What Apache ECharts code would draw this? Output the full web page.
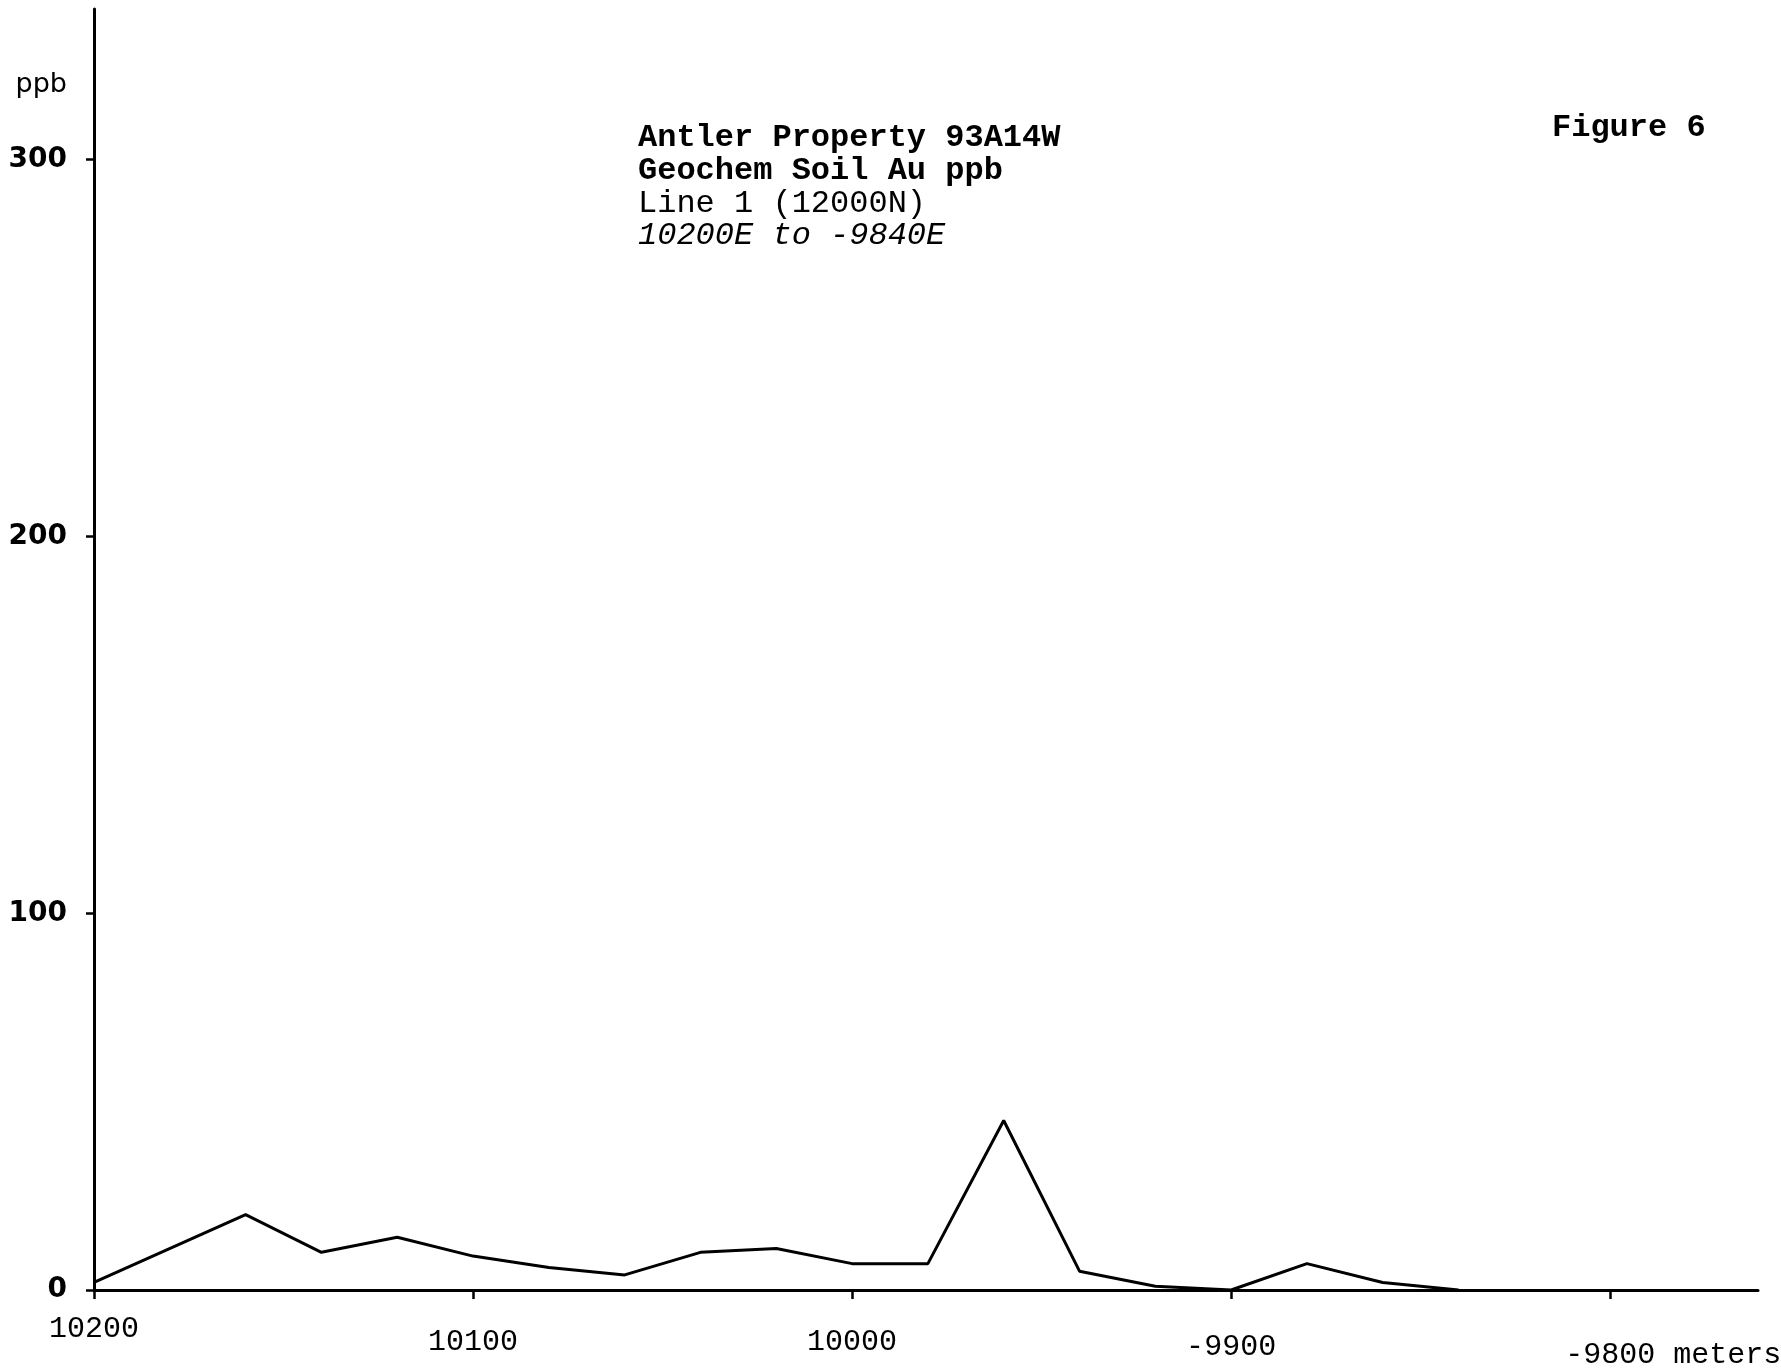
<!DOCTYPE html>
<html>
<head>
<meta charset="utf-8">
<script src="https://cdn.jsdelivr.net/npm/echarts@6/dist/echarts.min.js"></script>
<style>
  html, body { margin: 0; padding: 0; background: #fff; }
  #chart { width: 1781px; height: 1370px; }
</style>
</head>
<body>
<div id="chart"></div>
<script>
// Soil gold results along Line 1 (12000N), station easting in metres
const eastings = [10200, 10160, 10140, 10120, 10100, 10080, 10060, 10040, 10020, 10000, 9980, 9960, 9940, 9920, 9900, 9880, 9860, 9840];
const auPpb    = [2, 20, 10, 14, 9, 6, 4, 10, 11, 7, 7, 45, 5, 1, 0, 7, 2, 0];

// Axis ticks and their printed labels
const xTicks = [10200, 10100, 10000, 9900, 9800];
const xTickLabels = ['10200', '10100', '10000', '-9900', '-9800'];
const yTicks = [0, 100, 200, 300];
const yTickLabels = ['0', '100', '200', '300'];

const titleLines = ['Antler Property 93A14W', 'Geochem Soil Au ppb', 'Line 1 (12000N)', '10200E to -9840E'];
const figureLabel = 'Figure 6';

const mono = '"Liberation Mono", "Courier New", monospace';
const sans = '"DejaVu Sans", "Liberation Sans", sans-serif';

const chart = echarts.init(document.getElementById('chart'), null, { renderer: 'canvas' });

// small downward shifts of the individual tick labels
const xLabelRich = {};
const xLabelDrop = [0, 13, 13, 18, 26];
xTicks.forEach((t, i) => {
  xLabelRich['t' + i] = { fontFamily: mono, fontSize: 30, color: '#000', padding: [xLabelDrop[i], 0, 0, 0] };
});
xLabelRich.pad = { fontFamily: mono, fontSize: 30, width: 126, padding: [xLabelDrop[4], 0, 0, 0] };
xLabelRich.unit = { fontFamily: mono, fontSize: 30, color: '#000', padding: [xLabelDrop[4], 0, 0, 0] };

chart.setOption({
  animation: false,
  backgroundColor: '#fff',
  title: [
    {
      left: 638,
      top: 122,
      padding: 0,
      text: '{b|' + titleLines[0] + '}\n{b|' + titleLines[1] + '}\n{n|' + titleLines[2] + '}\n{i|' + titleLines[3] + '}',
      textStyle: {
        fontWeight: 'normal',
        rich: {
          b: { fontFamily: mono, fontSize: 32, fontWeight: 'bold', color: '#000', lineHeight: 32.5 },
          n: { fontFamily: mono, fontSize: 32, fontWeight: 'normal', color: '#000', lineHeight: 32.5 },
          i: { fontFamily: mono, fontSize: 32, fontWeight: 'normal', fontStyle: 'italic', color: '#000', lineHeight: 32.5 }
        }
      }
    },
    {
      left: 1552,
      top: 112,
      padding: 0,
      text: figureLabel,
      textStyle: { fontFamily: mono, fontSize: 32, fontWeight: 'bold', color: '#000' }
    }
  ],
  grid: { left: 94, right: 23, top: 9, bottom: 80, containLabel: false, outerBoundsMode: 'none' },
  xAxis: {
    type: 'value',
    inverse: true,
    min: 9761,
    max: 10200,
    axisLine: { show: true, onZero: false, lineStyle: { color: '#000', width: 3 } },
    axisTick: { show: true, length: 9, lineStyle: { color: '#000', width: 2.5 }, customValues: xTicks },
    splitLine: { show: false },
    axisLabel: {
      customValues: xTicks,
      margin: 24,
      formatter: function (v) {
        const i = xTicks.indexOf(v);
        if (i < 0) return '';
        if (i === xTicks.length - 1) return '{pad| }{t' + i + '|' + xTickLabels[i] + '}{unit| meters}';
        return '{t' + i + '|' + xTickLabels[i] + '}';
      },
      rich: xLabelRich
    }
  },
  yAxis: {
    type: 'value',
    min: 0,
    max: 340,
    name: 'ppb',
    nameLocation: 'end',
    nameGap: -76,
    nameTextStyle: { fontFamily: sans, fontSize: 27, color: '#000', align: 'right', verticalAlign: 'middle', padding: [0, 27, 0, 0] },
    axisLine: { show: true, lineStyle: { color: '#000', width: 3 } },
    axisTick: { show: true, length: 8, lineStyle: { color: '#000', width: 2.5 }, customValues: yTicks },
    splitLine: { show: false },
    axisLabel: {
      customValues: yTicks,
      margin: 27,
      fontFamily: sans,
      fontSize: 28,
      fontWeight: 'bold',
      color: '#000',
      formatter: function (v) {
        const i = yTicks.indexOf(v);
        return i < 0 ? '' : yTickLabels[i];
      }
    }
  },
  series: [{
    type: 'line',
    data: eastings.map((e, i) => [e, auPpb[i]]),
    showSymbol: false,
    symbol: 'none',
    lineStyle: { color: '#000', width: 3 },
    silent: true
  }]
});
</script>
</body>
</html>
